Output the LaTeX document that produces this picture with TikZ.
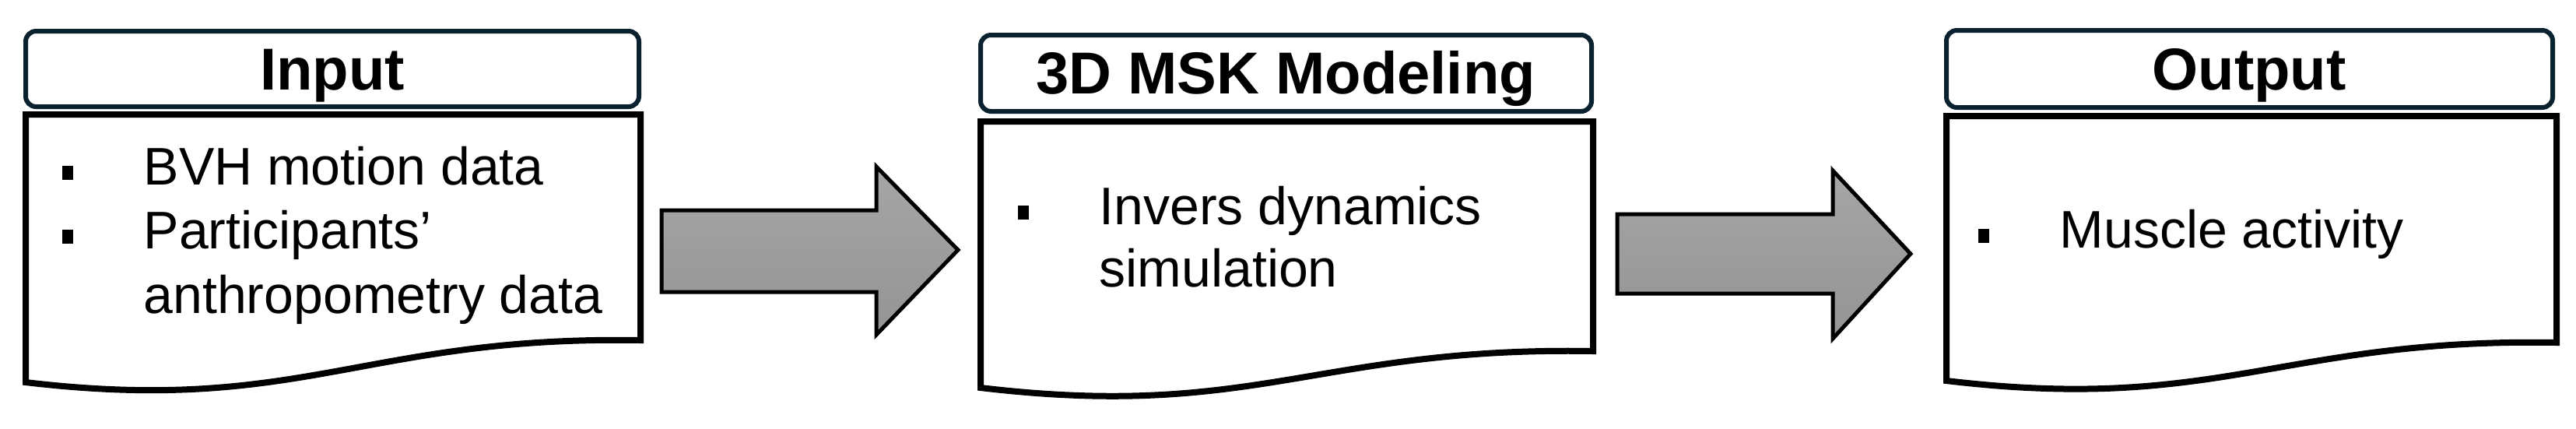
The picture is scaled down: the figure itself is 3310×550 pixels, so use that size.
\documentclass[tikz,border=0pt]{standalone}
\usepackage{fontspec}
\setmainfont{Liberation Sans}
\definecolor{navy}{HTML}{0A2230}
\tikzset{
  x=0.3pt,y=-0.3pt,
  header/.style={draw=navy,line width=1.8pt,rounded corners=4pt,fill=white},
  body/.style={draw=black,line width=2.4pt,fill=white,line join=miter},
  bigarrow/.style={draw=black,line width=1.5pt,top color=gray!70,bottom color=gray!95!black!80,shading angle=0},
  htext/.style={font=\bfseries\fontsize{22.8}{26}\selectfont,anchor=base},
  btext/.style={font=\fontsize{20.4}{24.6}\selectfont,anchor=base west,inner sep=0pt},
  bul/.style={fill=black,minimum width=4.2pt,minimum height=5.4pt,inner sep=0pt}
}
\newcommand{\docbox}[5]{% L, R, top, rightbottom, leftbottom
  \draw[body] (#1,#3) -- (#2,#3) -- (#2,#4)
    .. controls ({#2-0.45*(#2-#1)},#4-6) and ({#1+0.45*(#2-#1)},#5+42) .. (#1,#5) -- cycle;}
\begin{document}
\begin{tikzpicture}
\useasboundingbox (0,0) rectangle (3310,550);
% Input
\draw[header] (33,40) rectangle (821,137);
\node[htext] (hin) at (427,115) {Input};
\docbox{33}{823}{147}{437}{491}
\node[bul] (b1) at (87,222) {};
\node[btext] (t1) at (184,237) {BVH motion data};
\node[bul] (b2) at (87,304) {};
\node[btext] (t2) at (184,319) {Participants’};
\node[btext] (t3) at (184,402) {anthropometry data};
% arrow 1
\draw[bigarrow] (850,270) -- (1126,270) -- (1126,214) -- (1231,321) -- (1126,430) -- (1126,375) -- (850,375) -- cycle;
% Middle
\draw[header] (1260,45) rectangle (2045,143);
\node[htext] (hmid) at (1652,120) {3D MSK Modeling};
\docbox{1260}{2047}{156}{451}{498}
\node[bul] (b3) at (1315,273) {};
\node[btext] (t4) at (1412,288) {Invers dynamics};
\node[btext] (t5) at (1412,368) {simulation};
% arrow 2
\draw[bigarrow] (2078,275) -- (2355,275) -- (2355,219) -- (2455,326) -- (2355,435) -- (2355,377) -- (2078,377) -- cycle;
% Output
\draw[header] (2501,39) rectangle (3280,138);
\node[htext] (hout) at (2890,115) {Output};
\docbox{2501}{3285}{149}{440}{489}
\node[bul] (b4) at (2549,303) {};
\node[btext] (t6) at (2646,318) {Muscle activity};
\end{tikzpicture}
\end{document}
